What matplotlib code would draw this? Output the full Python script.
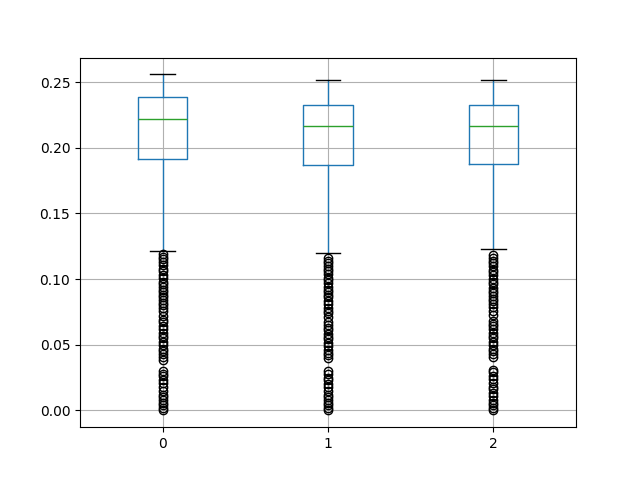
import matplotlib
matplotlib.use("Agg")
import matplotlib.pyplot as plt

labels = ["0", "1", "2"]
medians = [0.2218, 0.2164, 0.2164]
q1s = [0.1915, 0.1869, 0.1874]
q3s = [0.2385, 0.2327, 0.2327]
whis_lo = [0.1212, 0.1197, 0.1227]
whis_hi = [0.2558, 0.2515, 0.2515]

# outliers (they overlap heavily)
fliers_0 = [0.119, 0.117, 0.115, 0.113, 0.111, 0.108, 0.106, 0.103, 0.101, 0.098,
            0.096, 0.094, 0.092, 0.090, 0.088, 0.086, 0.084, 0.082, 0.080, 0.078,
            0.076, 0.072, 0.069, 0.067, 0.064, 0.062, 0.059, 0.057, 0.055, 0.052,
            0.050, 0.047, 0.045, 0.043, 0.041, 0.038, 0.030, 0.028, 0.026, 0.023,
            0.021, 0.018, 0.015, 0.012, 0.010, 0.008, 0.006, 0.004, 0.002, 0.000]
fliers_1 = [0.116, 0.114, 0.112, 0.110, 0.108, 0.106, 0.104, 0.101, 0.099, 0.097,
            0.094, 0.092, 0.090, 0.088, 0.086, 0.083, 0.081, 0.078, 0.076, 0.074,
            0.071, 0.067, 0.065, 0.063, 0.061, 0.058, 0.056, 0.054, 0.051, 0.049,
            0.046, 0.044, 0.042, 0.040, 0.030, 0.028, 0.025, 0.023, 0.020, 0.018,
            0.015, 0.012, 0.010, 0.008, 0.006, 0.004, 0.002, 0.000]
fliers_2 = [0.118, 0.116, 0.114, 0.112, 0.110, 0.107, 0.105, 0.103, 0.100, 0.098,
            0.096, 0.093, 0.091, 0.089, 0.087, 0.085, 0.083, 0.081, 0.079, 0.076,
            0.073, 0.068, 0.066, 0.064, 0.062, 0.059, 0.057, 0.055, 0.052, 0.050,
            0.047, 0.045, 0.043, 0.041, 0.031, 0.029, 0.026, 0.024, 0.021, 0.018,
            0.016, 0.013, 0.011, 0.008, 0.006, 0.004, 0.002, 0.000]
fliers = [fliers_0, fliers_1, fliers_2]

stats = []
for i in range(len(labels)):
    stats.append({
        "label": labels[i],
        "med": medians[i],
        "q1": q1s[i],
        "q3": q3s[i],
        "whislo": whis_lo[i],
        "whishi": whis_hi[i],
        "fliers": fliers[i],
    })

fig, ax = plt.subplots(figsize=(6.4, 4.8), dpi=100)
ax.bxp(stats,
       boxprops=dict(color="#1f77b4"),
       whiskerprops=dict(color="#1f77b4"),
       medianprops=dict(color="#2ca02c"),
       capprops=dict(color="k"),
       flierprops=dict(marker="o", markeredgecolor="k", markerfacecolor="none"))
ax.grid(True)
fig.savefig("out.png")
